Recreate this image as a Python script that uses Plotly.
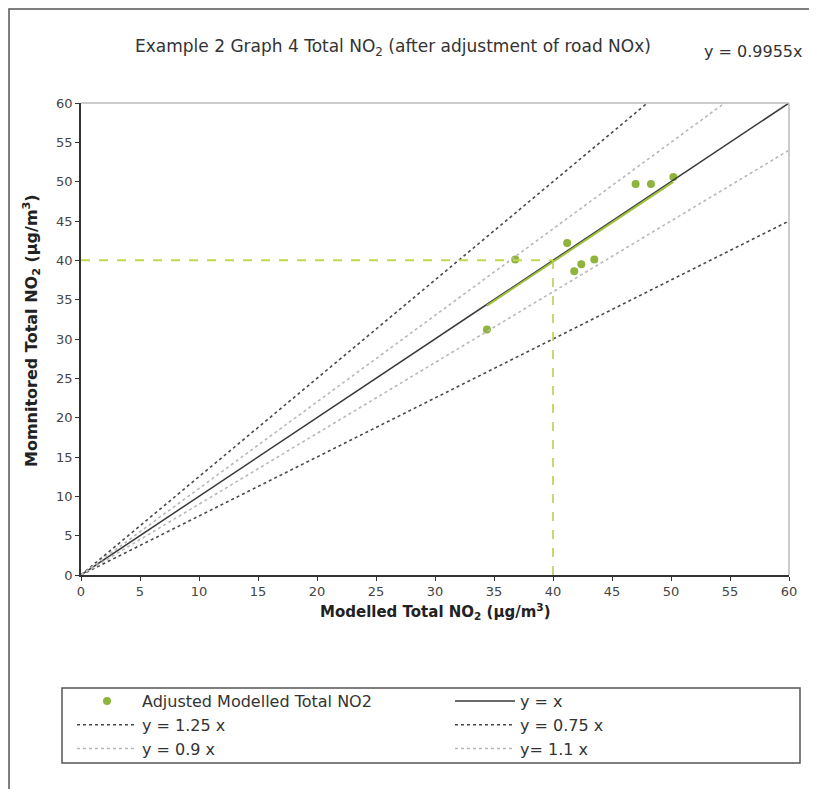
import plotly.graph_objects as go

# Data
modelled = [34.4, 36.8, 41.2, 41.8, 42.4, 43.5, 47.0, 48.3, 50.2]
monitored = [31.2, 40.1, 42.2, 38.6, 39.5, 40.1, 49.7, 49.7, 50.6]
trend_slope = 0.9955
ref_names = ["y = x", "y = 1.25 x", "y = 0.75 x", "y = 0.9 x", "y= 1.1 x"]
ref_slopes = [1.0, 1.25, 0.75, 0.9, 1.1]
axis_max = 60
objective = 40
tick_vals = list(range(0, 61, 5))

OFF = 8  # page body margin
W, H = 817, 789
L, T = 81 - OFF, 103 - OFF
R = W - (789 - OFF)
B = H - (575 - OFF)
pw, ph = W - L - R, H - T - B

def px_x(p):
    return (p - OFF - L) / pw

def px_y(p):
    return (H - B - (p - OFF)) / ph

ref_styles = {
    "y = x": dict(color="#3a3a3a", width=1.5, dash="solid"),
    "y = 1.25 x": dict(color="#4a4a4a", width=1.6, dash="dot"),
    "y = 0.75 x": dict(color="#4a4a4a", width=1.6, dash="dot"),
    "y = 0.9 x": dict(color="#b8b8b8", width=1.6, dash="dot"),
    "y= 1.1 x": dict(color="#b8b8b8", width=1.6, dash="dot"),
}

fig = go.Figure()

green = "#8fb43c"
fig.add_trace(go.Scatter(
    x=modelled, y=monitored, mode="markers", name="Adjusted Modelled Total NO2",
    marker=dict(color=green, size=8), legendrank=1))

order_rank = {"y = x": 2, "y = 1.25 x": 3, "y = 0.75 x": 4, "y = 0.9 x": 5, "y= 1.1 x": 6}
for name, k in zip(ref_names, ref_slopes):
    fig.add_trace(go.Scatter(
        x=[0, axis_max], y=[0, k * axis_max], mode="lines", name=name,
        line=ref_styles[name], legendrank=order_rank[name]))

# trend line
xmin, xmax = min(modelled), max(modelled)
fig.add_trace(go.Scatter(
    x=[xmin, xmax], y=[trend_slope * xmin, trend_slope * xmax], mode="lines",
    line=dict(color="#9cc03c", width=2), showlegend=False))

# objective guide lines
fig.add_trace(go.Scatter(
    x=[0, objective], y=[objective, objective], mode="lines",
    line=dict(color="#c2d84a", width=2, dash="dash"), showlegend=False))
fig.add_trace(go.Scatter(
    x=[objective, objective], y=[0, objective], mode="lines",
    line=dict(color="#b5cc48", width=1.5, dash="dash"), showlegend=False))

font = "DejaVu Sans, Verdana, sans-serif"

fig.update_layout(
    width=W, height=H,
    margin=dict(l=L, r=R, t=T, b=B, autoexpand=False),
    paper_bgcolor="white", plot_bgcolor="white",
    font=dict(family=font, size=13, color="#333"),
    showlegend=True,
    legend=dict(
        orientation="h", x=px_x(72), xanchor="left", y=px_y(684), yanchor="top",
        entrywidth=303, entrywidthmode="pixels",
        borderwidth=0, bgcolor="rgba(0,0,0,0)",
        font=dict(family=font, size=16, color="#333"),
        traceorder="normal", tracegroupgap=0, itemwidth=60,
    ),
    xaxis=dict(
        range=[0, axis_max], tickvals=tick_vals, showgrid=False, zeroline=False,
        showline=True, linecolor="#333", linewidth=1.5,
        ticks="outside", ticklen=4, tickcolor="#333",
        tickfont=dict(size=13, color="#444"), fixedrange=True,
    ),
    yaxis=dict(
        range=[0, axis_max], tickvals=tick_vals, showgrid=False, zeroline=False,
        showline=True, linecolor="#333", linewidth=1.5,
        ticks="outside", ticklen=4, tickcolor="#333",
        tickfont=dict(size=13, color="#444"), fixedrange=True,
    ),
    shapes=[
        # light frame top/right of plot area
        dict(type="line", xref="paper", yref="paper", x0=0, x1=1, y0=1, y1=1,
             line=dict(color="#bbbbbb", width=1.5)),
        dict(type="line", xref="paper", yref="paper", x0=1, x1=1, y0=0, y1=1,
             line=dict(color="#bbbbbb", width=1.5)),
        # legend box
        dict(type="rect", xref="paper", yref="paper",
             x0=px_x(62), x1=px_x(800), y0=px_y(688), y1=px_y(763),
             line=dict(color="#555", width=1.5)),
        # outer chart border
        dict(type="rect", xref="paper", yref="paper",
             x0=px_x(9), x1=px_x(850), y0=px_y(9), y1=px_y(850),
             line=dict(color="#555", width=1.5)),
    ],
    annotations=[
        dict(text="Example 2 Graph 4 Total NO<sub>2</sub> (after adjustment of road NOx)",
             xref="paper", yref="paper", x=px_x(393), y=px_y(47),
             xanchor="center", yanchor="middle", showarrow=False,
             font=dict(size=17, color="#333")),
        dict(text="y = 0.9955x", xref="paper", yref="paper", x=px_x(753), y=px_y(52),
             xanchor="center", yanchor="middle", showarrow=False,
             font=dict(size=16, color="#333")),
        dict(text="<b>Modelled Total NO<sub>2</sub> (µg/m<sup>3</sup>)</b>",
             xref="paper", yref="paper", x=px_x(436), y=px_y(611),
             xanchor="center", yanchor="middle", showarrow=False,
             font=dict(size=15, color="#222")),
        dict(text="<b>Momnitored Total NO<sub>2</sub> (µg/m<sup>3</sup>)</b>",
             xref="paper", yref="paper", x=px_x(31), y=px_y(331),
             xanchor="center", yanchor="middle", showarrow=False, textangle=-90,
             font=dict(size=16, color="#222")),
    ],
)

fig.write_html("out.html")
